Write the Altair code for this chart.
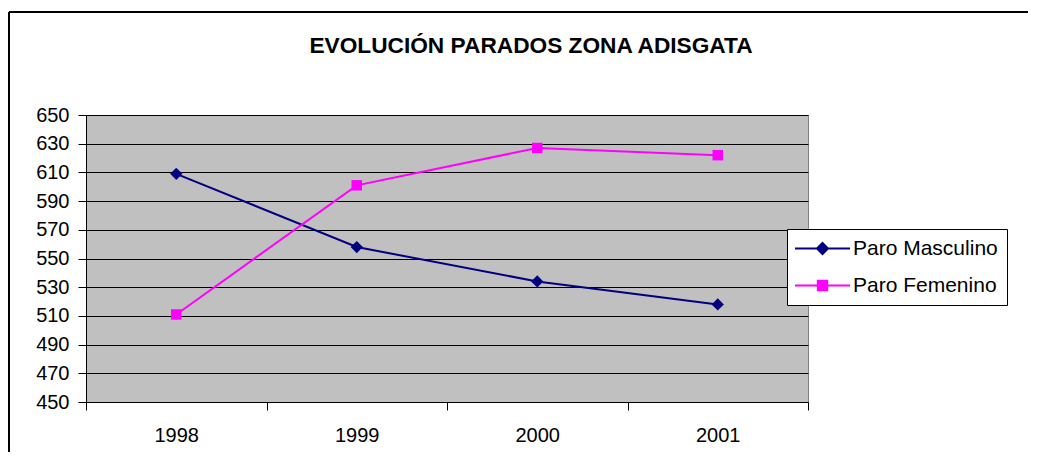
import altair as alt
import pandas as pd

TITLE = "EVOLUCIÓN PARADOS ZONA ADISGATA"
YEARS = ["1998", "1999", "2000", "2001"]
SERIES = ["Paro Masculino", "Paro Femenino"]
MASC = [609, 558, 534, 518]
FEM = [511, 601, 627, 622]
Y_TICKS = [450, 470, 490, 510, 530, 550, 570, 590, 610, 630, 650]
COLORS = ["#000080", "#FF00FF"]

rows = []
for y, v in zip(YEARS, MASC):
    rows.append({"year": y, "value": v, "series": SERIES[0]})
for y, v in zip(YEARS, FEM):
    rows.append({"year": y, "value": v, "series": SERIES[1]})
df = pd.DataFrame(rows)

FONT = "Liberation Sans"

x_enc = alt.X(
    "year:O",
    sort=YEARS,
    scale=alt.Scale(type="band", paddingInner=0, paddingOuter=0),
    axis=alt.Axis(
        title=None, labelAngle=0, labelFontSize=20, labelFont=FONT, labelColor="black",
        labelPadding=15, tickSize=8, tickColor="black", domainColor="black",
        tickBand="extent", grid=False,
    ),
)
y_enc = alt.Y(
    "value:Q",
    scale=alt.Scale(domain=[450, 650], nice=False, zero=False),
    axis=alt.Axis(
        title=None, values=Y_TICKS, labelFontSize=20, labelFont=FONT, labelColor="black",
        labelPadding=9, tickSize=8, tickColor="black", domainColor="black",
        grid=True, gridColor="black", gridWidth=1, gridOpacity=1,
    ),
)

base = alt.Chart(df)
m_data = base.transform_filter(alt.datum.series == SERIES[0])
f_data = base.transform_filter(alt.datum.series == SERIES[1])

line_m = m_data.mark_line(strokeWidth=2, color=COLORS[0]).encode(x=x_enc, y=y_enc)
line_f = f_data.mark_line(strokeWidth=2, color=COLORS[1]).encode(x=x_enc, y=y_enc)

pts_m = m_data.mark_point(
    shape="diamond", filled=True, size=150, color=COLORS[0], opacity=1
).encode(x=x_enc, y=y_enc)

pts_f = f_data.mark_point(
    shape="square", filled=True, size=110, color=COLORS[1], opacity=1
).encode(x=x_enc, y=y_enc)

PATH_M = "M-5,0H5M0,-1L1,0L0,1L-1,0Z"
PATH_F = "M-5,0H5M-0.85,-0.85H0.85V0.85H-0.85Z"

leg = alt.Legend(
    title=None, orient="none", legendX=701, legendY=114,
    labelFontSize=21, labelFont=FONT, labelColor="black",
    symbolSize=121, symbolStrokeWidth=2, symbolOpacity=1,
    symbolOffset=16, labelOffset=20, rowPadding=15, padding=9,
    strokeColor="black", fillColor="white",
)

legend_layer = base.mark_point(filled=True, opacity=0, strokeWidth=2).encode(
    x=x_enc, y=y_enc,
    fill=alt.Fill("series:N", scale=alt.Scale(domain=SERIES, range=COLORS), legend=leg),
    stroke=alt.Stroke("series:N", scale=alt.Scale(domain=SERIES, range=COLORS), legend=leg),
    shape=alt.Shape("series:N", scale=alt.Scale(domain=SERIES, range=[PATH_M, PATH_F]), legend=leg),
)

title_df = pd.DataFrame({"t": [TITLE]})
title = alt.Chart(title_df).mark_text(
    font=FONT, fontSize=22.7, fontWeight="bold", color="black", align="center", baseline="alphabetic"
).encode(text="t:N", x=alt.value(445), y=alt.value(-62))

border_top = alt.Chart(title_df).mark_rule(color="black", strokeWidth=2).encode(
    x=alt.value(-77), x2=alt.value(960), y=alt.value(-103)
)
border_left = alt.Chart(title_df).mark_rule(color="black", strokeWidth=2).encode(
    x=alt.value(-77), y=alt.value(-103), y2=alt.value(360)
)

chart = alt.layer(
    border_top, border_left, title, line_m, line_f, pts_m, pts_f, legend_layer
).properties(
    width=722, height=287,
    padding={"left": 78, "top": 107, "right": 220, "bottom": 50},
    autosize=alt.AutoSizeParams(type="none"),
    background="white",
).configure_view(
    fill="#C0C0C0", stroke="#808080", strokeWidth=1
)

chart.save("out.html", embed_options={"renderer": "svg", "actions": False})
